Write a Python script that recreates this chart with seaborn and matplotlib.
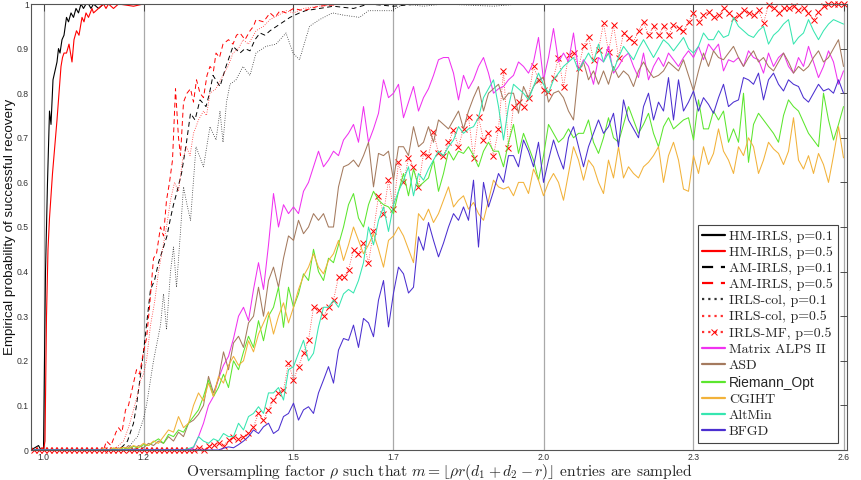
import numpy as np
import pandas as pd
import matplotlib
matplotlib.use("Agg")
import matplotlib.pyplot as plt
import seaborn as sns

# ---------------- data ----------------
# common oversampling grid for the baseline methods and IRLS-MF
rho = np.round(np.arange(0.98, 2.6001, 0.01), 2)

# vertex lists (rho, probability) for the IRLS-family curves
hm_irls_01 = [(0.975, 0), (0.99, 0.01), (0.995, 0), (1.0, 0), (1.004, 0.4), (1.008, 0.6), (1.012, 0.76),
              (1.015, 0.73), (1.019, 0.83), (1.023, 0.85), (1.027, 0.87), (1.03, 0.9), (1.033, 0.89),
              (1.037, 0.92), (1.041, 0.93), (1.046, 0.97), (1.05, 0.96), (1.055, 0.98), (1.06, 0.97),
              (1.065, 0.99), (1.07, 0.98), (1.075, 1.0), (1.08, 0.99), (1.085, 1.0), (1.09, 1.0),
              (1.095, 0.99), (1.1, 1.0), (1.11, 0.99), (1.12, 1.0), (2.6, 1.0)]
hm_irls_05 = [(0.975, 0), (1.0, 0), (1.003, 0.02), (1.006, 0.3), (1.009, 0.45), (1.012, 0.52), (1.015, 0.57),
              (1.018, 0.62), (1.021, 0.66), (1.024, 0.7), (1.027, 0.74), (1.031, 0.8), (1.035, 0.86),
              (1.038, 0.88), (1.041, 0.89), (1.046, 0.89), (1.051, 0.91), (1.057, 0.87), (1.061, 0.92),
              (1.066, 0.94), (1.071, 0.93), (1.077, 0.97), (1.081, 0.96), (1.085, 0.98), (1.09, 0.97),
              (1.097, 0.99), (1.1, 0.98), (1.11, 0.99), (1.12, 1.0), (1.125, 0.99), (1.13, 1.0),
              (1.14, 0.99), (1.15, 1.0), (1.18, 0.995), (1.2, 1.0), (2.6, 1.0)]
am_irls_01 = [(0.975, 0), (1.15, 0), (1.16, 0.01), (1.168, 0.02), (1.174, 0.04), (1.18, 0.06), (1.186, 0.1),
              (1.193, 0.16), (1.2, 0.22), (1.206, 0.28), (1.214, 0.36), (1.222, 0.38), (1.23, 0.42),
              (1.24, 0.455), (1.247, 0.48), (1.254, 0.52), (1.26, 0.55), (1.266, 0.575), (1.276, 0.62),
              (1.286, 0.69), (1.294, 0.755), (1.303, 0.74), (1.313, 0.785), (1.325, 0.77), (1.332, 0.8),
              (1.339, 0.84), (1.353, 0.815), (1.365, 0.86), (1.379, 0.905), (1.393, 0.89), (1.403, 0.9),
              (1.413, 0.895), (1.423, 0.92), (1.433, 0.935), (1.443, 0.93), (1.453, 0.94), (1.473, 0.955),
              (1.493, 0.97), (1.512, 0.98), (1.524, 0.985), (1.552, 0.99), (1.58, 0.995), (1.62, 0.99),
              (1.65, 1.0), (1.7, 0.995), (1.75, 1.0), (2.6, 1.0)]
am_irls_05 = [(0.975, 0), (1.12, 0), (1.126, 0.02), (1.135, 0.01), (1.145, 0.04), (1.15, 0.05), (1.157, 0.04),
              (1.164, 0.09), (1.17, 0.1), (1.178, 0.14), (1.186, 0.18), (1.192, 0.17), (1.2, 0.22),
              (1.206, 0.25), (1.212, 0.32), (1.22, 0.43), (1.226, 0.44), (1.234, 0.5), (1.24, 0.48),
              (1.246, 0.56), (1.252, 0.6), (1.258, 0.65), (1.264, 0.81), (1.27, 0.7), (1.274, 0.66),
              (1.28, 0.78), (1.287, 0.8), (1.294, 0.81), (1.3, 0.78), (1.306, 0.83), (1.313, 0.8),
              (1.32, 0.79), (1.327, 0.84), (1.333, 0.86), (1.34, 0.85), (1.345, 0.89), (1.352, 0.88),
              (1.359, 0.91), (1.37, 0.92), (1.379, 0.91), (1.386, 0.93), (1.393, 0.935), (1.403, 0.92),
              (1.413, 0.94), (1.42, 0.95), (1.425, 0.965), (1.44, 0.96), (1.453, 0.98), (1.463, 0.97),
              (1.473, 0.985), (1.485, 0.98), (1.5, 0.99), (1.52, 0.985), (1.55, 0.995), (1.6, 1.0), (2.6, 1.0)]
irls_col_01 = [(0.975, 0), (1.16, 0), (1.17, 0.005), (1.18, 0.02), (1.188, 0.03), (1.194, 0.05), (1.2, 0.07),
               (1.206, 0.1), (1.213, 0.15), (1.22, 0.2), (1.227, 0.24), (1.234, 0.28), (1.24, 0.35),
               (1.246, 0.27), (1.254, 0.4), (1.26, 0.455), (1.266, 0.365), (1.274, 0.49), (1.28, 0.59),
               (1.287, 0.55), (1.294, 0.515), (1.305, 0.68), (1.32, 0.635), (1.333, 0.725), (1.345, 0.695),
               (1.353, 0.76), (1.359, 0.69), (1.366, 0.78), (1.373, 0.82), (1.385, 0.83), (1.399, 0.86),
               (1.413, 0.84), (1.425, 0.89), (1.445, 0.905), (1.465, 0.91), (1.485, 0.935), (1.499, 0.89),
               (1.512, 0.875), (1.532, 0.95), (1.552, 0.965), (1.578, 0.98), (1.6, 0.975), (1.632, 0.97),
               (1.65, 0.985), (1.672, 0.985), (1.697, 0.985), (1.72, 1.0), (1.76, 0.995), (1.8, 1.0),
               (1.9, 0.995), (1.95, 1.0), (2.6, 1.0)]
irls_col_05 = [(0.975, 0), (1.14, 0), (1.15, 0.01), (1.16, 0.02), (1.17, 0.05), (1.18, 0.09), (1.187, 0.12),
               (1.194, 0.157), (1.2, 0.17), (1.206, 0.2), (1.214, 0.28), (1.222, 0.33), (1.23, 0.4),
               (1.238, 0.45), (1.246, 0.5), (1.254, 0.56), (1.262, 0.6), (1.27, 0.58), (1.278, 0.65),
               (1.286, 0.68), (1.293, 0.66), (1.3, 0.71), (1.31, 0.74), (1.32, 0.76), (1.326, 0.75),
               (1.333, 0.8), (1.345, 0.81), (1.359, 0.84), (1.369, 0.86), (1.379, 0.89), (1.39, 0.9),
               (1.399, 0.92), (1.41, 0.91), (1.425, 0.94), (1.44, 0.95), (1.453, 0.965), (1.47, 0.975),
               (1.485, 0.985), (1.5, 0.98), (1.52, 0.99), (1.55, 0.995), (1.6, 1.0), (2.6, 1.0)]

# series on the common grid (163 values, rho = 0.98 ... 2.60)
irls_mf_05 = [
    0, 0, 0, 0, 0, 0, 0, 0, 0, 0,
    0, 0, 0, 0, 0, 0, 0, 0, 0, 0,
    0, 0, 0, 0, 0, 0, 0, 0, 0, 0,
    0, 0, 0, 0.005, 0, 0.008, 0.012, 0.015, 0.01, 0.022,
    0.03, 0.025, 0.03, 0.037, 0.052, 0.082, 0.067, 0.09, 0.112, 0.128,
    0.134, 0.195, 0.157, 0.187, 0.217, 0.246, 0.32, 0.314, 0.3, 0.32,
    0.336, 0.388, 0.388, 0.404, 0.448, 0.44, 0.464, 0.42, 0.49, 0.57,
    0.53, 0.605, 0.54, 0.645, 0.6, 0.655, 0.635, 0.59, 0.665, 0.66,
    0.713, 0.665, 0.66, 0.69, 0.717, 0.68, 0.72, 0.747, 0.655, 0.747,
    0.695, 0.71, 0.66, 0.72, 0.85, 0.677, 0.77, 0.78, 0.77, 0.79,
    0.86, 0.83, 0.807, 0.803, 0.834, 0.88, 0.814, 0.886, 0.89, 0.856,
    0.905, 0.926, 0.875, 0.897, 0.957, 0.893, 0.953, 0.88, 0.934, 0.924,
    0.915, 0.94, 0.96, 0.93, 0.95, 0.93, 0.95, 0.93, 0.953, 0.946,
    0.94, 0.96, 0.98, 0.96, 0.975, 0.982, 0.97, 0.975, 0.99, 0.98,
    0.968, 0.975, 0.986, 0.98, 0.975, 0.986, 0.957, 0.998, 0.99, 0.98,
    0.99, 0.99, 0.995, 0.986, 0.99, 0.98, 0.964, 0.982, 0.995, 1.0,
    1.0, 1.0, 1.0]
matrix_alps = [
    0, 0, 0, 0, 0, 0, 0, 0, 0, 0,
    0, 0, 0, 0, 0, 0, 0, 0, 0, 0,
    0, 0, 0, 0, 0, 0, 0, 0, 0, 0,
    0, 0, 0.005, 0.03, 0.06, 0.1, 0.12, 0.16, 0.19, 0.21,
    0.25, 0.3, 0.32, 0.29, 0.36, 0.42, 0.36, 0.46, 0.575, 0.5,
    0.55, 0.53, 0.545, 0.53, 0.58, 0.6, 0.635, 0.67, 0.635, 0.65,
    0.67, 0.66, 0.695, 0.71, 0.73, 0.69, 0.77, 0.69, 0.72, 0.755,
    0.83, 0.79, 0.8, 0.82, 0.745, 0.78, 0.815, 0.76, 0.79, 0.81,
    0.84, 0.875, 0.88, 0.88, 0.845, 0.785, 0.84, 0.81, 0.83, 0.86,
    0.88, 0.845, 0.8, 0.81, 0.815, 0.83, 0.84, 0.87, 0.86, 0.845,
    0.87, 0.925, 0.83, 0.88, 0.945, 0.87, 0.89, 0.87, 0.935, 0.85,
    0.875, 0.86, 0.82, 0.88, 0.87, 0.905, 0.845, 0.86, 0.88, 0.89,
    0.86, 0.835, 0.89, 0.83, 0.86, 0.88, 0.86, 0.89, 0.875, 0.86,
    0.88, 0.895, 0.88, 0.905, 0.875, 0.91, 0.895, 0.91, 0.85, 0.875,
    0.87, 0.88, 0.86, 0.895, 0.88, 0.875, 0.845, 0.89, 0.86, 0.88,
    0.89, 0.86, 0.845, 0.88, 0.86, 0.905, 0.87, 0.835, 0.86, 0.895,
    0.87, 0.82, 0.85]
asd = [
    0, 0, 0, 0, 0, 0, 0, 0, 0, 0,
    0, 0, 0, 0, 0, 0, 0, 0.005, 0, 0.01,
    0, 0.01, 0.005, 0.015, 0.01, 0.02, 0.015, 0.03, 0.02, 0.04,
    0.03, 0.06, 0.067, 0.08, 0.1, 0.165, 0.128, 0.16, 0.22, 0.18,
    0.24, 0.255, 0.23, 0.285, 0.3, 0.365, 0.3, 0.38, 0.41, 0.365,
    0.43, 0.48, 0.47, 0.515, 0.485, 0.5, 0.53, 0.515, 0.53, 0.5,
    0.5, 0.59, 0.635, 0.64, 0.65, 0.635, 0.66, 0.69, 0.59, 0.665,
    0.66, 0.67, 0.605, 0.68, 0.68, 0.66, 0.725, 0.68, 0.69, 0.725,
    0.69, 0.74, 0.73, 0.72, 0.74, 0.76, 0.72, 0.76, 0.79, 0.815,
    0.76, 0.8, 0.81, 0.82, 0.785, 0.8, 0.8, 0.755, 0.815, 0.79,
    0.815, 0.83, 0.835, 0.78, 0.8, 0.805, 0.79, 0.76, 0.74, 0.85,
    0.87, 0.83, 0.85, 0.82, 0.85, 0.82, 0.86, 0.835, 0.85, 0.84,
    0.815, 0.85, 0.87, 0.85, 0.835, 0.84, 0.85, 0.87, 0.86, 0.85,
    0.875, 0.84, 0.805, 0.85, 0.89, 0.86, 0.895, 0.88, 0.875, 0.89,
    0.905, 0.88, 0.86, 0.88, 0.895, 0.87, 0.88, 0.86, 0.85, 0.87,
    0.89, 0.87, 0.845, 0.86, 0.85, 0.86, 0.88, 0.895, 0.87, 0.88,
    0.9, 0.92, 0.86]
riemann_opt = [
    0, 0, 0, 0, 0, 0, 0, 0, 0, 0,
    0, 0, 0, 0, 0, 0, 0.003, 0, 0.005, 0.003,
    0.008, 0.005, 0.012, 0.01, 0.018, 0.025, 0.015, 0.035, 0.03, 0.045,
    0.04, 0.06, 0.075, 0.09, 0.12, 0.157, 0.12, 0.14, 0.17, 0.14,
    0.2, 0.18, 0.22, 0.255, 0.23, 0.29, 0.245, 0.3, 0.32, 0.365,
    0.275, 0.365, 0.32, 0.35, 0.395, 0.38, 0.45, 0.4, 0.38, 0.43,
    0.42, 0.46, 0.5, 0.55, 0.575, 0.52, 0.5, 0.55, 0.58, 0.56,
    0.55, 0.545, 0.53, 0.58, 0.62, 0.57, 0.63, 0.59, 0.6, 0.61,
    0.65, 0.58, 0.62, 0.67, 0.65, 0.67, 0.665, 0.68, 0.66, 0.635,
    0.67, 0.69, 0.67, 0.67, 0.635, 0.69, 0.73, 0.665, 0.71, 0.68,
    0.65, 0.605, 0.66, 0.73, 0.71, 0.69, 0.7, 0.72, 0.7, 0.71,
    0.71, 0.74, 0.69, 0.665, 0.7, 0.745, 0.7, 0.69, 0.73, 0.77,
    0.74, 0.71, 0.73, 0.755, 0.71, 0.68, 0.725, 0.745, 0.72, 0.73,
    0.74, 0.745, 0.695, 0.785, 0.72, 0.72, 0.76, 0.74, 0.76, 0.69,
    0.72, 0.69, 0.8, 0.645, 0.73, 0.755, 0.74, 0.725, 0.71, 0.69,
    0.75, 0.785, 0.77, 0.76, 0.735, 0.71, 0.695, 0.68, 0.8, 0.74,
    0.695, 0.73, 0.77]
cgiht = [
    0, 0, 0, 0, 0, 0, 0, 0, 0, 0,
    0, 0, 0, 0, 0.003, 0, 0.005, 0.002, 0.006, 0.004,
    0.01, 0.006, 0.015, 0.01, 0.02, 0.015, 0.03, 0.045, 0.04, 0.075,
    0.05, 0.06, 0.1, 0.128, 0.11, 0.15, 0.12, 0.165, 0.15, 0.19,
    0.21, 0.19, 0.2, 0.245, 0.22, 0.26, 0.285, 0.31, 0.26, 0.3,
    0.33, 0.285, 0.32, 0.36, 0.39, 0.41, 0.44, 0.41, 0.395, 0.425,
    0.44, 0.47, 0.425, 0.46, 0.5, 0.47, 0.44, 0.46, 0.485, 0.45,
    0.41, 0.47, 0.48, 0.5, 0.48, 0.45, 0.42, 0.53, 0.515, 0.54,
    0.51, 0.53, 0.56, 0.59, 0.545, 0.56, 0.57, 0.54, 0.555, 0.53,
    0.515, 0.56, 0.605, 0.59, 0.585, 0.59, 0.57, 0.6, 0.6, 0.575,
    0.63, 0.605, 0.57, 0.6, 0.62, 0.6, 0.56, 0.62, 0.68, 0.65,
    0.605, 0.65, 0.635, 0.6, 0.575, 0.65, 0.61, 0.68, 0.61, 0.635,
    0.62, 0.61, 0.635, 0.645, 0.66, 0.68, 0.6, 0.66, 0.69, 0.65,
    0.585, 0.58, 0.66, 0.62, 0.68, 0.64, 0.665, 0.72, 0.67, 0.65,
    0.62, 0.68, 0.66, 0.7, 0.68, 0.62, 0.65, 0.69, 0.675, 0.665,
    0.64, 0.67, 0.745, 0.65, 0.63, 0.66, 0.62, 0.665, 0.64, 0.6,
    0.66, 0.725, 0.655]
altmin = [
    0, 0, 0, 0, 0, 0, 0, 0, 0, 0,
    0, 0, 0, 0, 0, 0, 0, 0, 0, 0,
    0, 0, 0, 0, 0, 0, 0, 0, 0, 0,
    0, 0.003, 0.007, 0.03, 0.02, 0.015, 0.025, 0.02, 0.037, 0.03,
    0.03, 0.06, 0.045, 0.075, 0.082, 0.097, 0.082, 0.128, 0.128, 0.14,
    0.112, 0.18, 0.187, 0.217, 0.246, 0.2, 0.217, 0.276, 0.32, 0.32,
    0.336, 0.32, 0.35, 0.36, 0.352, 0.38, 0.42, 0.5, 0.46, 0.515,
    0.545, 0.49, 0.55, 0.58, 0.605, 0.635, 0.57, 0.62, 0.605, 0.63,
    0.65, 0.67, 0.66, 0.68, 0.695, 0.725, 0.71, 0.72, 0.725, 0.745,
    0.79, 0.81, 0.83, 0.77, 0.695, 0.77, 0.82, 0.81, 0.8, 0.785,
    0.815, 0.845, 0.82, 0.8, 0.83, 0.845, 0.86, 0.87, 0.88, 0.85,
    0.87, 0.89, 0.87, 0.91, 0.87, 0.89, 0.85, 0.88, 0.905, 0.89,
    0.875, 0.9, 0.92, 0.9, 0.88, 0.9, 0.92, 0.91, 0.895, 0.91,
    0.925, 0.9, 0.89, 0.905, 0.935, 0.92, 0.92, 0.94, 0.925, 0.93,
    0.97, 0.95, 0.94, 0.93, 0.925, 0.94, 0.95, 0.91, 0.93, 0.94,
    0.955, 0.965, 0.91, 0.925, 0.935, 0.965, 0.94, 0.92, 0.94, 0.955,
    0.965, 0.96, 0.955]
bfgd = [
    0, 0, 0, 0, 0, 0, 0, 0, 0, 0,
    0, 0, 0, 0, 0, 0, 0, 0, 0, 0,
    0, 0, 0, 0, 0, 0, 0, 0, 0, 0,
    0, 0, 0, 0, 0, 0, 0, 0, 0.004, 0.007,
    0.005, 0.012, 0.02, 0.03, 0.045, 0.037, 0.052, 0.06, 0.037, 0.045,
    0.075, 0.082, 0.105, 0.067, 0.09, 0.097, 0.082, 0.128, 0.157, 0.187,
    0.15, 0.224, 0.25, 0.246, 0.28, 0.23, 0.295, 0.285, 0.254, 0.336,
    0.38, 0.276, 0.352, 0.41, 0.395, 0.352, 0.365, 0.478, 0.448, 0.51,
    0.47, 0.433, 0.464, 0.5, 0.53, 0.515, 0.545, 0.515, 0.605, 0.455,
    0.6, 0.545, 0.58, 0.62, 0.6, 0.66, 0.66, 0.635, 0.695, 0.67,
    0.635, 0.69, 0.6, 0.65, 0.695, 0.66, 0.63, 0.7, 0.725, 0.68,
    0.635, 0.68, 0.71, 0.74, 0.71, 0.725, 0.755, 0.68, 0.785, 0.74,
    0.72, 0.7, 0.77, 0.8, 0.74, 0.78, 0.76, 0.835, 0.74, 0.83,
    0.76, 0.78, 0.805, 0.76, 0.79, 0.775, 0.755, 0.79, 0.82, 0.77,
    0.78, 0.785, 0.835, 0.83, 0.82, 0.845, 0.785, 0.83, 0.845, 0.82,
    0.805, 0.83, 0.82, 0.815, 0.79, 0.78, 0.8, 0.82, 0.805, 0.81,
    0.8, 0.83, 0.8]

x_ticks = [1.0, 1.2, 1.5, 1.7, 2.0, 2.3, 2.6]
x_tick_labels = ["1.0", "1.2", "1.5", "1.7", "2.0", "2.3", "2.6"]
y_ticks = [0, 0.1, 0.2, 0.3, 0.4, 0.5, 0.6, 0.7, 0.8, 0.9, 1.0]
y_tick_labels = ["0", "0.1", "0.2", "0.3", "0.4", "0.5", "0.6", "0.7", "0.8", "0.9", "1"]

# ---------------- style ----------------
sns.set_theme(style="white")
plt.rcParams["font.family"] = ["Liberation Sans", "DejaVu Sans"]
plt.rcParams["mathtext.fontset"] = "cm"
plt.rcParams["axes.unicode_minus"] = False

fig = plt.figure(figsize=(8.62, 4.8), dpi=100)
ax = fig.add_axes([31 / 862, 30 / 480, 816 / 862, 446 / 480])

DOT = (0, (1, 1.8))
DASH = (0, (5, 3.5))

vertex_series = [
    ("HM-IRLS, p=0.1", hm_irls_01, dict(color="black", linestyle="-", linewidth=0.8)),
    ("HM-IRLS, p=0.5", hm_irls_05, dict(color="#ff0000", linestyle="-", linewidth=0.8)),
    ("AM-IRLS, p=0.1", am_irls_01, dict(color="black", linestyle=DASH, linewidth=0.7)),
    ("AM-IRLS, p=0.5", am_irls_05, dict(color="#ff0000", linestyle=DASH, linewidth=0.7)),
    ("IRLS-col, p=0.1", irls_col_01, dict(color="#333333", linestyle=DOT, linewidth=0.6)),
    ("IRLS-col, p=0.5", irls_col_05, dict(color="#ff3030", linestyle=DOT, linewidth=0.6)),
]
grid_series = [
    ("IRLS-MF, p=0.5", irls_mf_05, dict(color="#ff3030", linestyle=DOT, linewidth=0.6, marker="x",
                                        markersize=4.5, markeredgecolor="#ff0000",
                                        markeredgewidth=0.7)),
    ("Matrix ALPS II", matrix_alps, dict(color="#f032f0", linestyle="-", linewidth=0.75)),
    ("ASD", asd, dict(color="#a47a5e", linestyle="-", linewidth=0.75)),
    ("Riemann_Opt", riemann_opt, dict(color="#5ce62e", linestyle="-", linewidth=0.75)),
    ("CGIHT", cgiht, dict(color="#f2b23a", linestyle="-", linewidth=0.75)),
    ("AltMin", altmin, dict(color="#36e6b0", linestyle="-", linewidth=0.75)),
    ("BFGD", bfgd, dict(color="#4b2fd0", linestyle="-", linewidth=0.75)),
]

for name, pts, kw in vertex_series:
    df = pd.DataFrame(pts, columns=["rho", "p"])
    sns.lineplot(data=df, x="rho", y="p", ax=ax, label=name,
                 estimator=None, sort=False, **kw)

for name, vals, kw in grid_series:
    assert len(vals) == len(rho), name
    df = pd.DataFrame({"rho": rho, "p": vals})
    sns.lineplot(data=df, x="rho", y="p", ax=ax, label=name,
                 estimator=None, sort=False, **kw)

# the MF markers are not clipped at the axis border (as in the original)
for ln in ax.get_lines():
    if ln.get_label() == "IRLS-MF, p=0.5":
        ln.set_clip_on(False)

ax.set_xlim(0.975, 2.607)
ax.set_ylim(0, 1)
ax.set_xticks(x_ticks)
ax.set_xticklabels(x_tick_labels)
ax.set_yticks(y_ticks)
ax.set_yticklabels(y_tick_labels)
ax.xaxis.grid(True, color="#a9a9a9", linewidth=0.9)
ax.yaxis.grid(False)
ax.set_axisbelow(True)
ax.tick_params(direction="in", length=5, width=0.6, top=True, right=True,
               labelsize=6.2, colors="#333333")
ax.tick_params(axis="y", pad=1.5)
ax.tick_params(axis="x", pad=2.5)
for sp in ax.spines.values():
    sp.set_color("#555555")
    sp.set_linewidth(0.8)

ax.set_ylabel("Empirical probability of successful recovery", fontsize=9.6,
              family=["Liberation Sans", "DejaVu Sans"], color="#111111")
# ylabel anchor is the right (bottom-of-text) side of the rotated label
ax.yaxis.set_label_coords(-0.0185, 0.5)
ax.set_xlabel(r"Oversampling factor $\rho$ such that $m = \lfloor \rho r(d_1 + d_2 - r)\rfloor$ entries are sampled",
              fontsize=11.2, family="cmr10")
ax.xaxis.set_label_coords(0.5, -0.026)

leg = ax.legend(loc="lower right", bbox_to_anchor=(0.9885, 0.0157), borderaxespad=0,
                prop={"family": "cmr10", "size": 10}, frameon=True, fancybox=False,
                framealpha=1, edgecolor="#444444", handlelength=1.6, handletextpad=0.3,
                labelspacing=0.25, borderpad=0.35, numpoints=1)
leg.get_frame().set_linewidth(0.8)
for h in leg.get_lines():
    h.set_linewidth(1.6)
for t in leg.get_texts():
    if t.get_text() == "Riemann_Opt":
        t.set_fontfamily(["Liberation Sans", "DejaVu Sans"])

fig.savefig("out.png", dpi=100)
